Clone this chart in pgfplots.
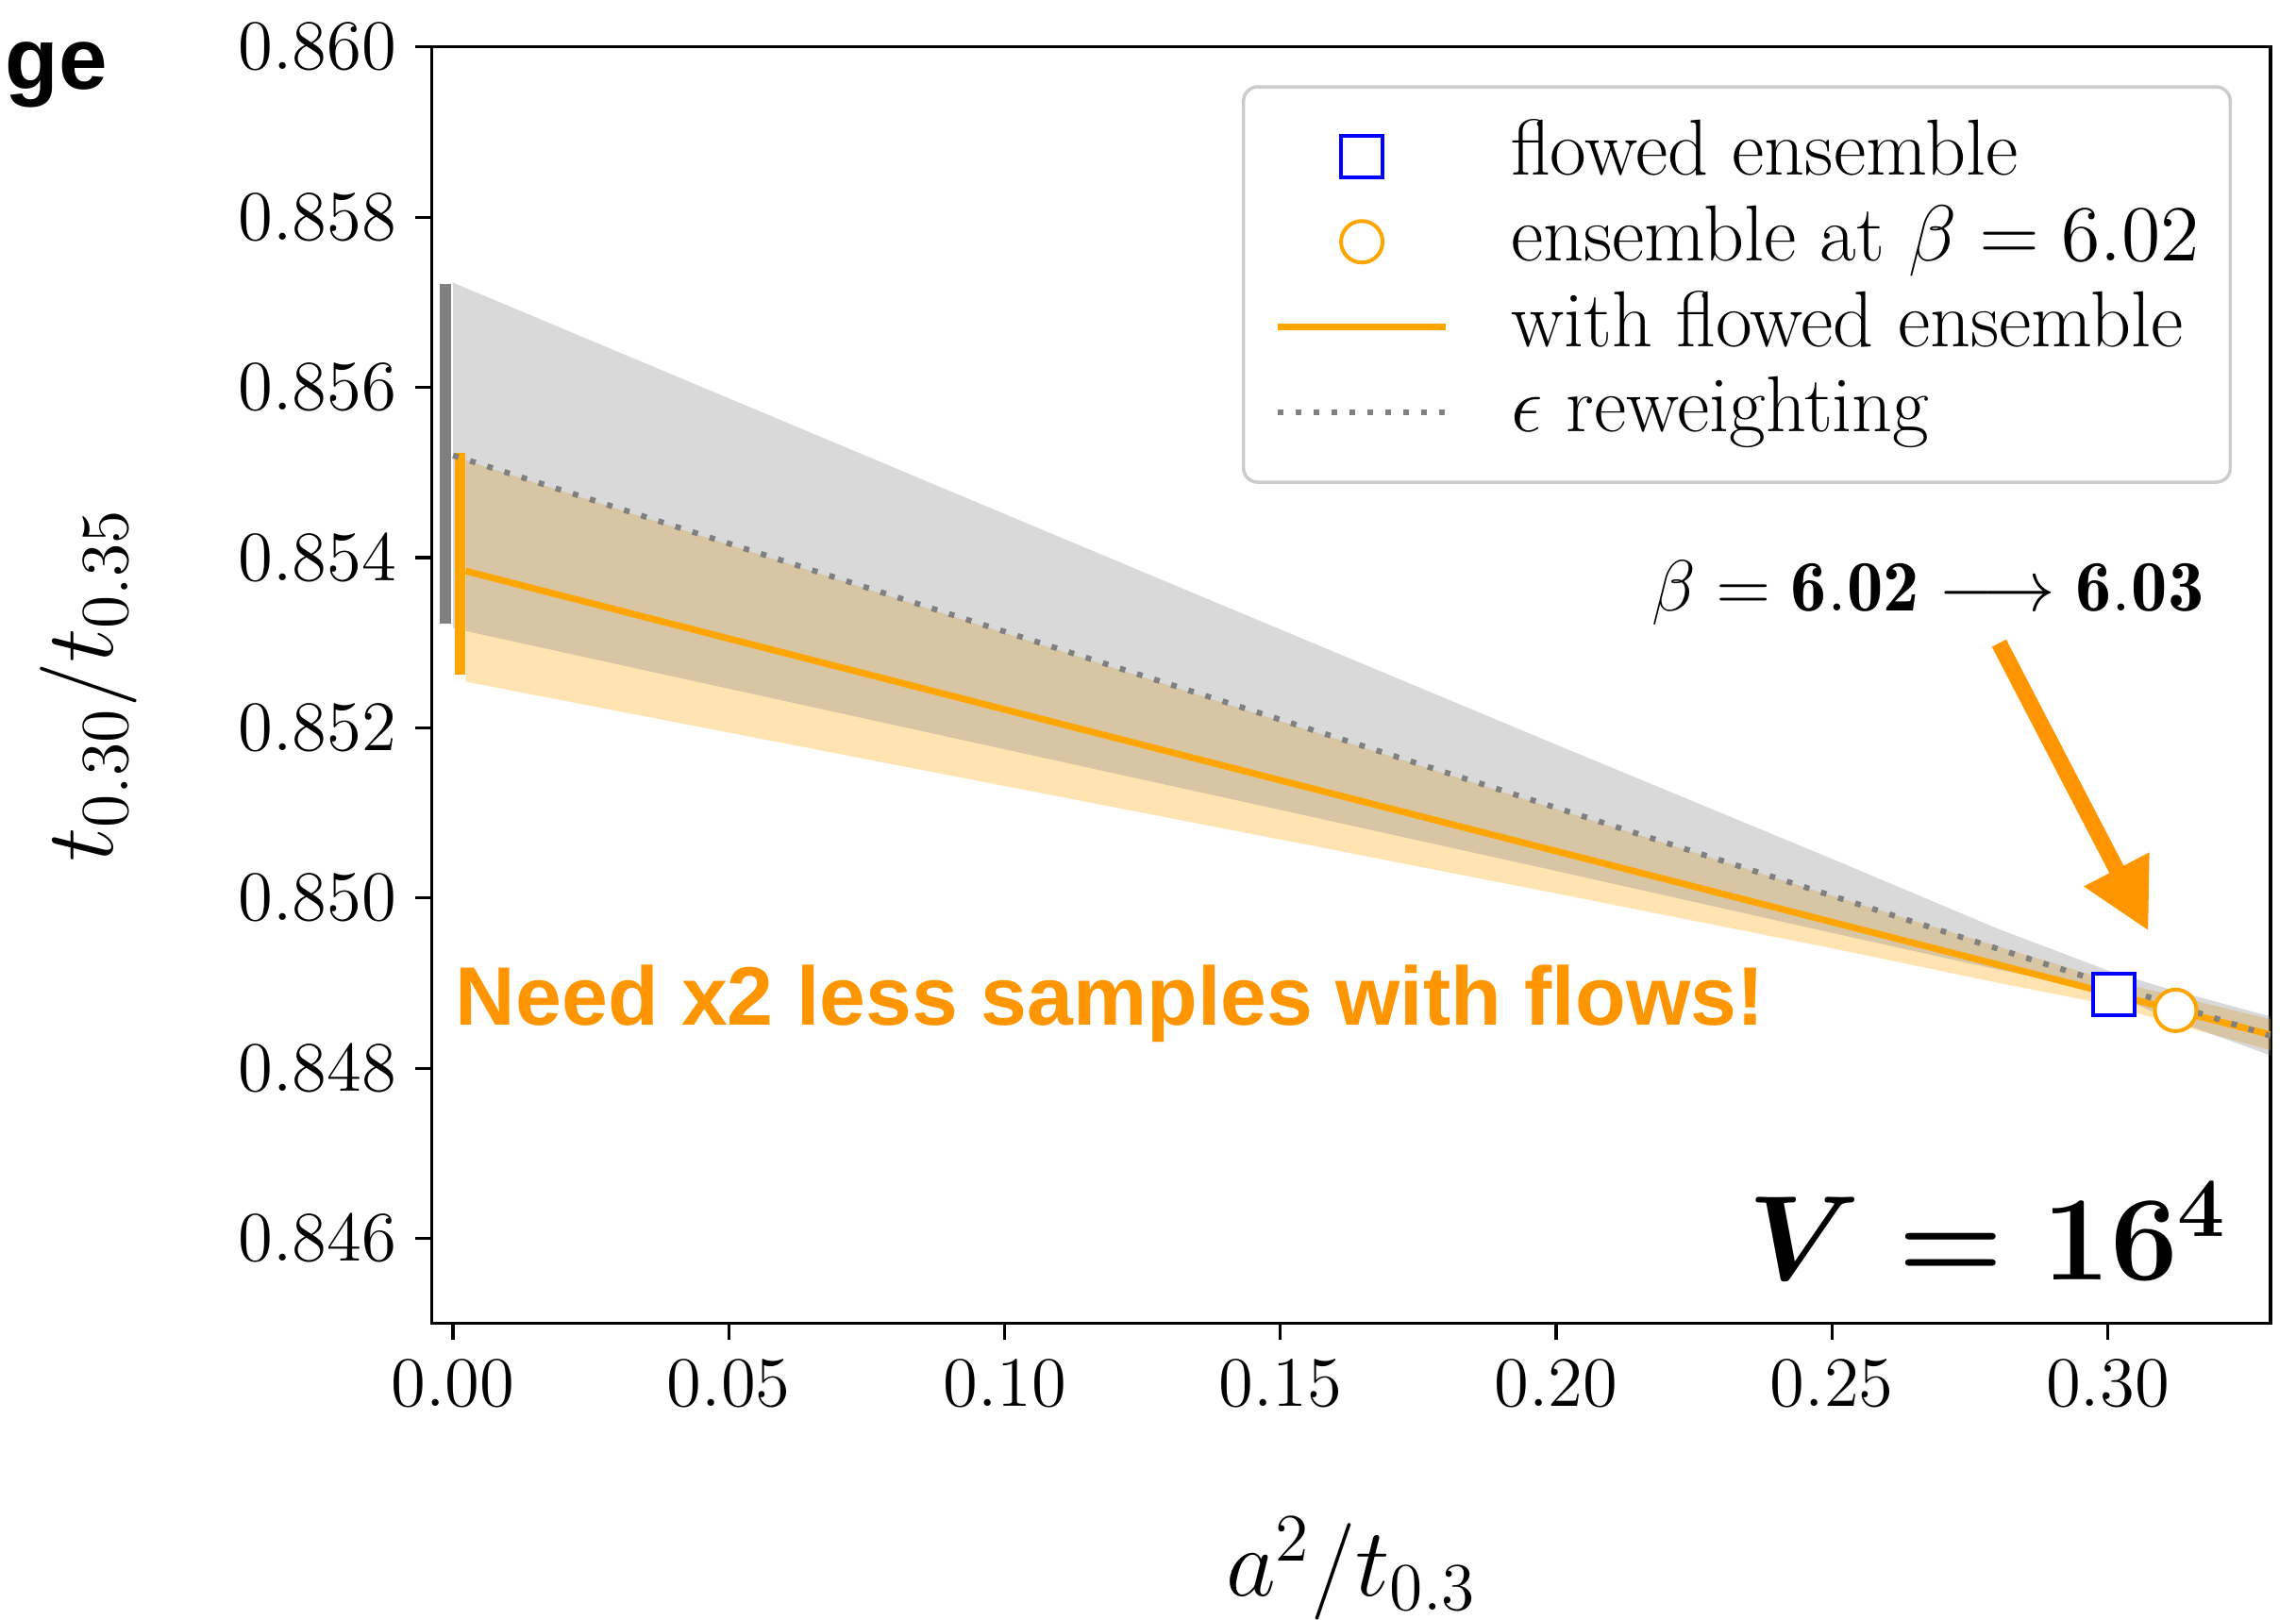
\RequirePackage{fix-cm}
\documentclass[border=0pt]{standalone}
\usepackage{fontspec}
\usepackage{pgfplots}
\pgfplotsset{compat=1.18}
\usetikzlibrary{arrows.meta}
\newfontfamily\helv{Liberation Sans}
\definecolor{mplorange}{HTML}{FFA500}
\definecolor{darkor}{HTML}{FF9500}
\definecolor{mplgray}{HTML}{808080}
\begin{document}
\begin{tikzpicture}
\begin{axis}[
  scale only axis, width=389.3pt, height=270.3pt,
  xmin=-0.0039, xmax=0.3295, ymin=0.845, ymax=0.860,
  axis line style={line width=0.65pt},
  tick style={black, line width=0.65pt},
  tick align=outside, major tick length=3.4pt,
  tick pos=left,
  xtick={0,0.05,0.1,0.15,0.2,0.25,0.3},
  ytick={0.846,0.848,0.850,0.852,0.854,0.856,0.858,0.860},
  scaled ticks=false,
  xticklabel style={/pgf/number format/.cd, fixed, fixed zerofill, precision=2, /tikz/.cd, font=\fontsize{15}{18}\selectfont, inner sep=0pt, anchor=north, yshift=-4.35pt},
  yticklabel style={/pgf/number format/.cd, fixed, fixed zerofill, precision=3, /tikz/.cd, font=\fontsize{15}{18}\selectfont, inner sep=0pt, anchor=east, xshift=-3.8pt},
]
\addplot[draw=none, fill=mplorange, fill opacity=0.3] coordinates {
 (0.0023,0.855142) (0.05,0.854152) (0.10,0.853114) (0.15,0.852078) (0.20,0.851046) (0.25,0.850026) (0.28,0.849432) (0.30,0.849040) (0.3123,0.848846) (0.3295,0.848576)
 (0.3295,0.848213) (0.3123,0.848514) (0.30,0.848750) (0.28,0.849004) (0.25,0.849410) (0.20,0.850054) (0.15,0.850688) (0.10,0.851316) (0.05,0.851944) (0.0023,0.852542)
};
\addplot[draw=none, fill=mplgray, fill opacity=0.3] coordinates {
 (0,0.857230) (0.05,0.855871) (0.10,0.854512) (0.15,0.853155) (0.20,0.851802) (0.25,0.850460) (0.28,0.849640) (0.30,0.849150) (0.31,0.848950) (0.3295,0.848608)
 (0.3295,0.848150) (0.31,0.848610) (0.30,0.848900) (0.28,0.849160) (0.25,0.849590) (0.20,0.850318) (0.15,0.851035) (0.10,0.851748) (0.05,0.852459) (0,0.853170)
};
\addplot[mplgray, line width=2.3pt] coordinates {(-0.00143,0.85322) (-0.00143,0.85722)};
\addplot[mplorange, line width=2.3pt] coordinates {(0.00124,0.85262) (0.00124,0.85523)};
\addplot[mplorange, line width=1.4pt] coordinates {(0.0023,0.853842) (0.3295,0.848394)};
\addplot[mplgray, line width=1.2pt, dash pattern=on 1.2pt off 2.6pt] coordinates {(0,0.855200) (0.3295,0.848380)};
\addplot[only marks, mark=square*, mark size=4.4pt, mark options={draw=blue, fill=white, line width=0.8pt}] coordinates {(0.3011,0.84887)};
\addplot[only marks, mark=*, mark size=4.4pt, mark options={draw=mplorange, fill=white, line width=0.8pt}] coordinates {(0.3123,0.84868)};
\end{axis}
\begin{axis}[
  scale only axis, width=389.3pt, height=270.3pt,
  xmin=0, xmax=1, ymin=0, ymax=1, hide axis,
  legend image code/.code={\draw[mark repeat=2,mark phase=2,#1] plot coordinates {(0pt,0pt) (17.85pt,0pt) (35.7pt,0pt)};},
  legend style={at={(0.979,0.970)}, anchor=north east, draw=black!20, line width=0.7pt, rounded corners=3pt, fill=white, inner xsep=6.5pt, inner ysep=7.25pt, font=\fontsize{16.8}{20}\selectfont, row sep=3.2pt, nodes={inner sep=0pt, text height=11.5pt, text depth=3.4pt}, /tikz/every odd column/.append style={column sep=13pt}},
  legend cell align=left,
]
\addplot[draw=none, forget plot] coordinates {(0.5,0.5)};
\addlegendimage{only marks, mark=square*, mark size=4.4pt, mark options={draw=blue, fill=white, line width=0.8pt, sharp corners}}
\addlegendentry{flowed ensemble}
\addlegendimage{only marks, mark=*, mark size=4.4pt, mark options={draw=mplorange, fill=white, line width=0.8pt}}
\addlegendentry{ensemble at $\beta = 6.02$}
\addlegendimage{mplorange, line width=1.4pt, sharp corners, no marks}
\addlegendentry{with flowed ensemble}
\addlegendimage{mplgray, line width=1.2pt, dash pattern=on 1.2pt off 2.6pt, sharp corners, no marks}
\addlegendentry{$\epsilon$ reweighting}
\end{axis}
\node[anchor=base, inner sep=0pt, font=\fontsize{20.5}{24}\selectfont] at (194.77pt,-57.66pt) {$a^2/t_{0.3}$};
\node[anchor=base, rotate=90, inner sep=0pt, font=\fontsize{20.5}{24}\selectfont] at (-67.39pt,135.16pt) {$t_{0.30}/t_{0.35}$};
\node[anchor=base east, inner sep=0pt, font=\fontsize{15.3}{18}\selectfont] at (375.38pt,150.97pt) {$\beta = \mathbf{6.02} \longrightarrow \mathbf{6.03}$};
\node[anchor=base west, inner sep=0pt, text=darkor, font=\helv\bfseries\fontsize{17.55}{20}\selectfont] at (4.93pt,63.15pt) {Need x2 less samples with flows!};
\node[anchor=base east, inner sep=0pt, font=\fontsize{25.5}{30}\selectfont\boldmath] at (380.46pt,9.15pt) {$V = 16^4$};
\node[anchor=base west, inner sep=0pt, font=\helv\bfseries\fontsize{18.5}{22}\selectfont] at (-90.43pt,261.33pt) {ge};
\draw[darkor, line width=3.4pt, -{Triangle[width=14.6pt,length=14.7pt]}] (331.83pt,144.06pt) -- (363.48pt,83.11pt);
\pgfresetboundingbox
\path (-91.36pt,-62.62pt) rectangle (394.7pt,280.24pt);
\end{tikzpicture}
\end{document}
